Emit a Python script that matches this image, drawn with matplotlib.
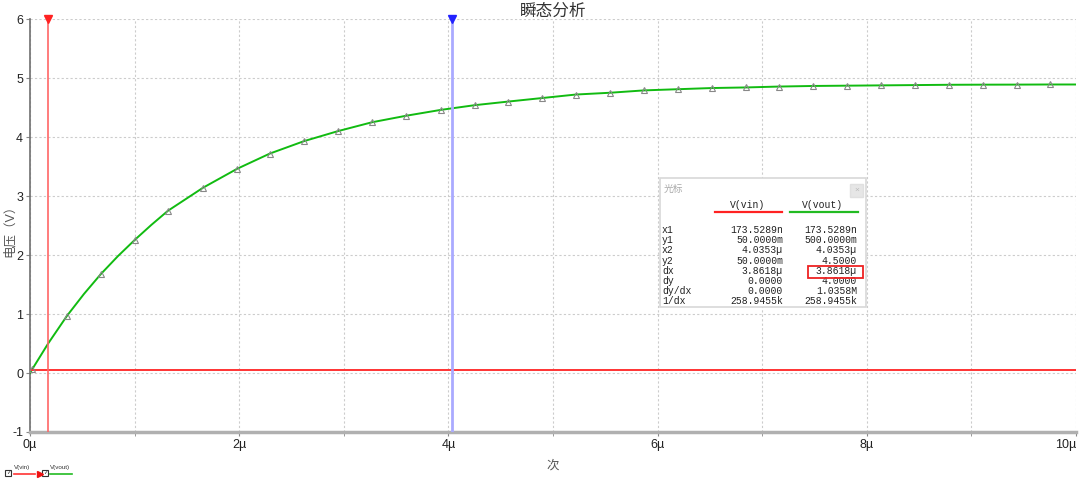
import matplotlib
matplotlib.use("Agg")
import matplotlib.pyplot as plt
from matplotlib.patches import Rectangle
from matplotlib.lines import Line2D

plt.rcParams['font.family'] = ['Liberation Sans', 'Noto Sans CJK SC', 'DejaVu Sans']

# time in µs, voltage in V
t_vout = [0.0, 0.02, 0.1735, 0.354, 0.516, 0.679, 0.84, 1.004, 1.16, 1.319, 1.654, 1.979,
          2.294, 2.62, 2.945, 3.27, 3.595, 3.929, 4.254, 4.569, 4.894, 5.22, 5.545,
          5.87, 6.195, 6.52, 6.845, 7.16, 7.486, 7.81, 8.136, 8.46, 8.786, 9.11,
          9.436, 9.75, 10.0]
v_vout = [0.0, 0.06, 0.50, 0.97, 1.34, 1.68, 1.98, 2.26, 2.51, 2.75, 3.14, 3.46,
          3.72, 3.93, 4.10, 4.25, 4.36, 4.46, 4.54, 4.60, 4.66, 4.72, 4.75,
          4.79, 4.81, 4.83, 4.84, 4.855, 4.865, 4.87, 4.875, 4.88, 4.885, 4.887,
          4.888, 4.89, 4.89]
# markers shown on the trace
t_mark = [0.02, 0.354, 0.679, 1.004, 1.319, 1.654, 1.979, 2.294, 2.62, 2.945, 3.27,
          3.595, 3.929, 4.254, 4.569, 4.894, 5.22, 5.545, 5.87, 6.195, 6.52, 6.845,
          7.16, 7.486, 7.81, 8.136, 8.46, 8.786, 9.11, 9.436, 9.75]
v_mark = [0.06, 0.97, 1.68, 2.26, 2.75, 3.14, 3.46, 3.72, 3.93, 4.10, 4.25,
          4.36, 4.46, 4.54, 4.60, 4.66, 4.72, 4.75, 4.79, 4.81, 4.83, 4.84,
          4.855, 4.865, 4.87, 4.875, 4.88, 4.885, 4.887, 4.888, 4.89]
t_vin = [0.0, 10.0]
v_vin = [0.05, 0.05]

cursor1 = 0.1735289
cursor2 = 4.0353

row_names = ["x1", "y1", "x2", "y2", "dx", "dy", "dy/dx", "1/dx"]
vin_vals = ["173.5289n", "50.0000m", "4.0353µ", "50.0000m", "3.8618µ", "0.0000", "0.0000", "258.9455k"]
vout_vals = ["173.5289n", "500.0000m", "4.0353µ", "4.5000", "3.8618µ", "4.0000", "1.0358M", "258.9455k"]

xticks = [0, 2, 4, 6, 8, 10]
xtick_labels = ["0µ", "2µ", "4µ", "6µ", "8µ", "10µ"]
yticks = [-1, 0, 1, 2, 3, 4, 5, 6]

W, H = 1080, 482
fig = plt.figure(figsize=(W / 100, H / 100), dpi=100)
ax = fig.add_axes([30 / W, 1 - 432 / H, 1046 / W, 413 / H])

ax.set_xlim(0, 10)
ax.set_ylim(-1, 6)
ax.set_xticks(xticks)
ax.set_xticklabels(xtick_labels, fontsize=9, color="#222222")
ax.get_xticklabels()[-1].set_horizontalalignment("right")
ax.set_xticks(range(0, 11), minor=True)
ax.set_yticks(yticks)
ax.set_yticklabels([str(v) for v in yticks], fontsize=9, color="#222222")
ax.tick_params(axis="both", which="both", length=3, color="#888888", pad=2)
ax.grid(True, which="both", axis="x", linestyle=(0, (2, 2)), color="#cccccc", linewidth=0.8)
ax.grid(True, which="major", axis="y", linestyle=(0, (2, 2)), color="#cccccc", linewidth=0.8)
for s in ["top", "right"]:
    ax.spines[s].set_visible(False)
ax.spines["left"].set_color("#707070")
ax.spines["left"].set_linewidth(1.2)
ax.spines["bottom"].set_color("#b0b0b0")
ax.spines["bottom"].set_linewidth(2.5)

ax.plot(t_vout, v_vout, color="#11bb11", linewidth=1.4, zorder=3)
ax.plot(t_mark, v_mark, linestyle="none", marker="^", markersize=4,
        markerfacecolor="none", markeredgecolor="#888888", markeredgewidth=0.8, zorder=4)
ax.plot(t_vin, v_vin, color="#ff3333", linewidth=1.4, zorder=3)

ax.axvline(cursor1, color="#ff6666", linewidth=1.2, zorder=5)
ax.axvline(cursor2, color="#aaaaff", linewidth=2, zorder=5)
ax.plot([cursor1], [6], marker="v", markersize=6, color="#ff2222", clip_on=False, zorder=6)
ax.plot([cursor2], [6], marker="v", markersize=6, color="#2222ff", clip_on=False, zorder=6)

ax.set_title("瞬态分析", fontsize=12, color="#333333", pad=2)
ax.set_xlabel("次", fontsize=9, color="#555555", labelpad=6)


def fx(px):
    return px / W


def fy(py):
    return 1 - py / H


fig.text(fx(10), fy(228), "电压（V）", fontsize=9, color="#555555", rotation=90,
         ha="center", va="center")

# cursor readout box (figure pixel coords)
box = Rectangle((fx(660), fy(307)), fx(866) - fx(660), fy(178) - fy(307),
                transform=fig.transFigure, facecolor="white", edgecolor="#d8d8d8",
                linewidth=1.2, zorder=10)
fig.patches.append(box)
fig.patches.append(Rectangle((fx(850), fy(197)), 13 / W, 13 / H, transform=fig.transFigure,
                             facecolor="#e6e6e6", edgecolor="#e0e0e0", zorder=11))
fig.text(fx(856.5), fy(190.5), "×", fontsize=6, color="#bbbbbb", ha="center", va="center", zorder=12)
fig.text(fx(664), fy(189), "光标", fontsize=7, color="#aaaaaa", va="center", zorder=12)

mono = "Liberation Mono"
fig.text(fx(748), fy(205), "V(vin)", fontsize=7, family=mono, color="#222222",
         ha="center", va="center", zorder=12)
fig.text(fx(823), fy(205), "V(vout)", fontsize=7, family=mono, color="#222222",
         ha="center", va="center", zorder=12)
fig.lines.append(Line2D([fx(715), fx(782)], [fy(212), fy(212)], transform=fig.transFigure,
                        color="#ff2222", linewidth=1.6, zorder=12))
fig.lines.append(Line2D([fx(790), fx(858)], [fy(212), fy(212)], transform=fig.transFigure,
                        color="#22bb22", linewidth=1.6, zorder=12))
for i, name in enumerate(row_names):
    py = 230 + i * 10.2
    fig.text(fx(662), fy(py), name, fontsize=7, family=mono, color="#222222", va="center", zorder=12)
    fig.text(fx(783), fy(py), vin_vals[i], fontsize=7, family=mono, color="#222222",
             ha="right", va="center", zorder=12)
    fig.text(fx(857), fy(py), vout_vals[i], fontsize=7, family=mono, color="#222222",
             ha="right", va="center", zorder=12)
fig.patches.append(Rectangle((fx(808), fy(278)), 55 / W, 12 / H, transform=fig.transFigure,
                             facecolor="none", edgecolor="#ee2222", linewidth=1.3, zorder=13))

# legend strip at bottom-left
for cx, label, col, x0, x1 in [(8, "V(vin)", "#ff3333", 14, 35), (45, "V(vout)", "#22bb22", 50, 72)]:
    fig.patches.append(Rectangle((fx(cx - 3), fy(476)), 6 / W, 6 / H, transform=fig.transFigure,
                                 facecolor="white", edgecolor="#333333", linewidth=0.8))
    fig.text(fx(cx), fy(473), "✓", fontsize=4, color="#222222", ha="center", va="center",
             family="DejaVu Sans")
    fig.text(fx(x0), fy(468), label, fontsize=4.5, color="#333333", va="center")
    fig.lines.append(Line2D([fx(x0), fx(x1)], [fy(474), fy(474)], transform=fig.transFigure,
                            color=col, linewidth=1.2))
fig.lines.append(Line2D([fx(40)], [fy(474)], transform=fig.transFigure, marker=">",
                        markersize=4, color="#ee1111", linestyle="none"))

fig.savefig("out.png", dpi=100)
